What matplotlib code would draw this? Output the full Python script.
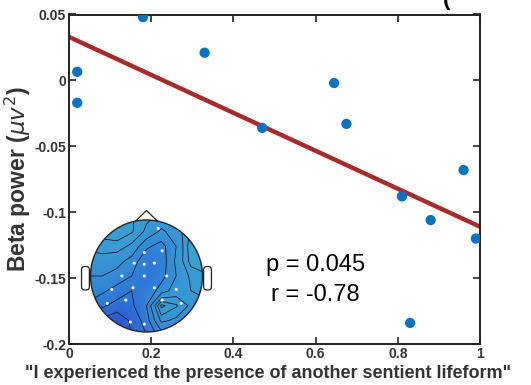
import numpy as np
import matplotlib
matplotlib.use('Agg')
import matplotlib.pyplot as plt
from matplotlib.patches import Circle, Polygon, FancyBboxPatch
from matplotlib.colors import LinearSegmentedColormap

plt.rcParams['font.family'] = ['Liberation Sans', 'DejaVu Sans']
plt.rcParams['axes.unicode_minus'] = False

# questionnaire score vs beta power
score = [0.02, 0.02, 0.18, 0.33, 0.47, 0.645, 0.675, 0.81, 0.83, 0.88, 0.96, 0.99]
beta = [0.0065, -0.017, 0.048, 0.021, -0.036, -0.002, -0.033, -0.088, -0.184, -0.106, -0.068, -0.120]

# regression line end points (x = 0 and x = 1)
fit_x = [0, 1]
fit_y = [0.033, -0.111]

xticks = [0, 0.2, 0.4, 0.6, 0.8, 1]
xticklabels = ['0', '0.2', '0.4', '0.6', '0.8', '1']
yticks = [-0.2, -0.15, -0.1, -0.05, 0, 0.05]
yticklabels = ['-0.2', '-0.15', '-0.1', '-0.05', '0', '0.05']

# topomap: values (rows top->bottom, cols left->right)
topo_vals = np.array([
    [.70, .70, .70, .68, .62, .58, .60, .65, .68],
    [.68, .70, .72, .68, .58, .48, .55, .68, .72],
    [.62, .64, .64, .58, .42, .36, .50, .72, .78],
    [.55, .56, .54, .46, .32, .34, .52, .70, .75],
    [.50, .50, .46, .40, .30, .36, .50, .62, .65],
    [.46, .42, .36, .30, .32, .45, .55, .60, .62],
    [.38, .32, .26, .28, .40, .76, .68, .58, .58],
    [.25, .18, .12, .22, .35, .62, .58, .52, .50],
    [.15, .10, .08, .20, .30, .45, .45, .45, .45],
])
elec_x = [0.21, -0.04, 0.28, -0.22, -0.04, 0.14, -0.44, -0.04, 0.36, -0.24,
          0.14, 0.53, -0.62, -0.37, 0.28, -0.70, 0.62, -0.29, -0.04]
elec_y = [0.85, 0.42, 0.45, 0.23, 0.21, 0.23, 0.0, 0.0, 0.0, -0.21,
          -0.21, -0.24, -0.24, -0.43, -0.43, -0.49, -0.49, -0.82, -0.86]

fig = plt.figure(figsize=(5.31, 3.85), dpi=100)
ax = fig.add_axes([69/531, 1 - 344/385, 411/531, 329.5/385])

ax.plot(fit_x, fit_y, color='#a82a2a', linewidth=3.2, solid_capstyle='butt', zorder=2)
ax.scatter(score, beta, s=55, color='#0a72c0', edgecolors='none', zorder=3)

ax.set_xlim(0, 1)
ax.set_ylim(-0.2, 0.05)
ax.set_xticks(xticks)
ax.set_xticklabels(xticklabels)
ax.set_yticks(yticks)
ax.set_yticklabels(yticklabels)
ax.tick_params(direction='in', length=5, width=1.2, top=True, right=True,
               labelsize=10, colors='#222222', labelcolor='#333333', pad=2)
for lab in ax.get_xticklabels() + ax.get_yticklabels():
    lab.set_fontweight('bold')
for sp in ax.spines.values():
    sp.set_linewidth(1.4)
    sp.set_color('#222222')

ax.set_xlabel('"I experienced the presence of another sentient lifeform"',
              fontsize=13, fontweight='bold', color='#333333', labelpad=1)
ax.xaxis.set_label_coords((268 - 69) / 411, -0.065)
ax.set_ylabel(r'Beta power ($\mu v^2$)', fontsize=16.5, fontweight='bold',
              color='#333333', labelpad=1)

ax.text(0.60, -0.140, 'p = 0.045', fontsize=17, ha='center', va='center')
ax.text(0.60, -0.163, 'r = -0.78', fontsize=17, ha='center', va='center')

# cut-off title fragment at the top
fig.text(447/531, 1.0, '(', fontsize=16, fontweight='bold', ha='center', va='center')

# topographic inset
r_px = 56
cx, cy = 146.5, 276
half = 1.25 * r_px
tax = fig.add_axes([(cx - half)/531, 1 - (cy + half)/385, 2*half/531, 2*half/385])
tax.set_xlim(-1.25, 1.25)
tax.set_ylim(-1.25, 1.25)
tax.axis('off')
tax.patch.set_alpha(0)

cmap = LinearSegmentedColormap.from_list('topo', ['#2c44c4', '#2f74d8', '#3596d6', '#3eaad0'])

for side in (-1, 1):
    ear = FancyBboxPatch((side * 1.09 - 0.07, -0.25), 0.14, 0.42,
                         boxstyle='round,pad=0,rounding_size=0.06',
                         facecolor='white', edgecolor='#222222', linewidth=0.9, zorder=1)
    tax.add_patch(ear)
nose = Polygon([[-0.2, 0.975], [0, 1.17], [0.2, 0.975]], closed=False,
               facecolor='white', edgecolor='#222222', linewidth=0.9, zorder=1)
tax.add_patch(nose)

head = Circle((0, 0), 1.0, transform=tax.transData, facecolor='none')
tax.add_patch(head)
img = tax.imshow(topo_vals, extent=[-1.06, 1.06, -1.06, 1.06], cmap=cmap,
                 vmin=0, vmax=0.85, interpolation='bicubic', zorder=2)
img.set_clip_path(head)

gx = np.linspace(-1.06, 1.06, topo_vals.shape[1])
gy = np.linspace(1.06, -1.06, topo_vals.shape[0])
cs = tax.contour(gx, gy, topo_vals, levels=[0.2, 0.3, 0.4, 0.5, 0.6, 0.67, 0.74],
                 colors='#1a1a2a', linewidths=0.6, zorder=3)
cs.set_clip_path(head)

tax.scatter(elec_x, elec_y, s=5, color='white', edgecolors='none', zorder=4)
tax.add_patch(Circle((0, 0), 1.0, facecolor='none', edgecolor='#222222', linewidth=1.0, zorder=5))

fig.savefig('out.png', dpi=100)
